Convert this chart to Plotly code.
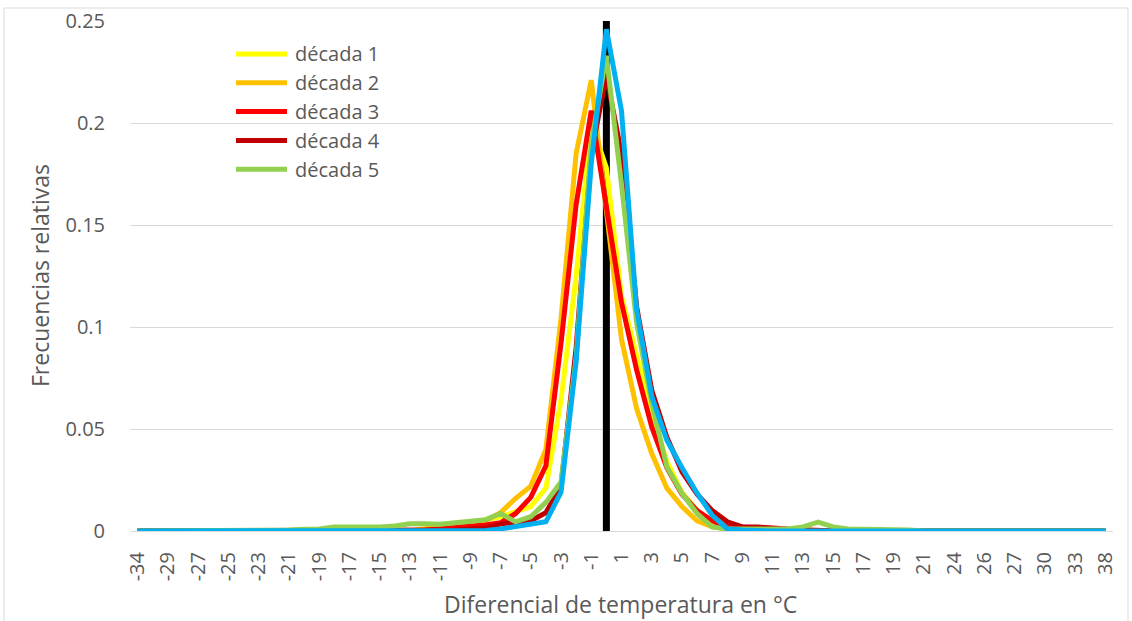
import plotly.graph_objects as go

# Categories (temperature differential, °C); every other one is labelled
categories = ["-34", "-31", "-29", "-28", "-27", "-26", "-25", "-24", "-23", "-22",
              "-21", "-20", "-19", "-18", "-17", "-16", "-15", "-14", "-13", "-12",
              "-11", "-10", "-9", "-8", "-7", "-6", "-5", "-4", "-3", "-2",
              "-1", "0", "1", "2", "3", "4", "5", "6", "7", "8",
              "9", "10", "11", "12", "13", "14", "15", "16", "17", "18",
              "19", "20", "21", "22", "24", "25", "26", "28", "27", "29",
              "30", "31", "33", "35", "38"]
tick_labels = categories[::2]

decada_1 = [0, 0, 0, 0, 0, 0, 0, 0, 0, 0,
            0, 0, 0, 0, 0, 0, 0, 0, 0, 0.001,
            0.0015, 0.002, 0.003, 0.0055, 0.007, 0.0095, 0.012, 0.021, 0.064, 0.125,
            0.2, 0.178, 0.115, 0.086, 0.058, 0.034, 0.019, 0.01, 0.004, 0.002,
            0.001, 0.0008, 0.0005, 0, 0, 0, 0, 0, 0, 0,
            0, 0, 0, 0, 0, 0, 0, 0, 0, 0,
            0, 0, 0, 0, 0]
decada_2 = [0, 0, 0, 0, 0, 0, 0, 0, 0, 0,
            0, 0, 0, 0, 0, 0, 0, 0, 0, 0.001,
            0.0015, 0.002, 0.003, 0.005, 0.009, 0.016, 0.022, 0.04, 0.104, 0.185,
            0.221, 0.157, 0.094, 0.06, 0.038, 0.021, 0.012, 0.005, 0.002, 0.001,
            0.0005, 0, 0, 0, 0, 0, 0, 0, 0, 0,
            0, 0, 0, 0, 0, 0, 0, 0, 0, 0,
            0, 0, 0, 0, 0]
decada_3 = [0, 0, 0, 0, 0, 0, 0, 0, 0, 0,
            0, 0, 0, 0, 0, 0, 0, 0, 0, 0.0005,
            0.001, 0.0015, 0.002, 0.003, 0.004, 0.0086, 0.0165, 0.032, 0.092, 0.16,
            0.206, 0.16, 0.112, 0.079, 0.051, 0.031, 0.018, 0.010, 0.005, 0.002,
            0.002, 0.002, 0.0015, 0.001, 0.0005, 0, 0, 0, 0, 0,
            0, 0, 0, 0, 0, 0, 0, 0, 0, 0,
            0, 0, 0, 0, 0]
decada_4 = [0, 0, 0, 0, 0, 0, 0, 0, 0, 0,
            0, 0, 0, 0, 0, 0, 0, 0, 0, 0,
            0, 0.0005, 0.001, 0.0015, 0.0035, 0.004, 0.005, 0.009, 0.022, 0.09,
            0.185, 0.223, 0.185, 0.11, 0.069, 0.046, 0.029, 0.018, 0.010, 0.0045,
            0.002, 0.002, 0.001, 0.0005, 0, 0, 0, 0, 0, 0,
            0, 0, 0, 0, 0, 0, 0, 0, 0, 0,
            0, 0, 0, 0, 0]
decada_5 = [0, 0, 0, 0, 0, 0, 0, 0, 0, 0,
            0.0005, 0.0008, 0.001, 0.002, 0.002, 0.0018, 0.002, 0.0025, 0.0035, 0.0035,
            0.0033, 0.004, 0.0045, 0.0055, 0.0086, 0.0045, 0.007, 0.014, 0.024, 0.085,
            0.19, 0.233, 0.17, 0.102, 0.0628, 0.0314, 0.0185, 0.0085, 0.002, 0.001,
            0.001, 0.001, 0.0008, 0.001, 0.002, 0.0043, 0.002, 0.001, 0.0008, 0.0008,
            0.001, 0.0005, 0, 0, 0, 0, 0, 0, 0, 0,
            0, 0, 0, 0, 0]
decada_6 = [0, 0, 0, 0, 0, 0, 0, 0, 0, 0,
            0, 0, 0, 0, 0, 0, 0, 0, 0, 0,
            0, 0, 0, 0.0003, 0.001, 0.002, 0.0035, 0.0045, 0.019, 0.083,
            0.18, 0.246, 0.206, 0.1085, 0.066, 0.0445, 0.031, 0.0185, 0.0077, 0.001,
            0.0005, 0, 0, 0, 0, 0, 0, 0, 0, 0,
            0, 0, 0, 0, 0, 0, 0, 0, 0, 0,
            0, 0, 0, 0, 0]

reference_x = ["0", "0"]
reference_y = [0, 0.25]

series_names = ["década 1", "década 2", "década 3", "década 4", "década 5", "década 6"]
series_values = [decada_1, decada_2, decada_3, decada_4, decada_5, decada_6]
series_colors = ["#FFFF00", "#FFC000", "#FF0000", "#C00000", "#92D050", "#00B0F0"]
legend_count = 5  # only the first five series appear in the legend

FONT = "Open Sans"
GREY = "#595959"

# plot-area geometry in pixels (used to place decorations in paper coordinates)
PL, PR, PT, PB = 130, 1113, 21, 531
PW, PH = PR - PL, PB - PT


def px(x):
    return (x - PL) / PW


def py(y):
    return (PB - y) / PH


fig = go.Figure()
fig.add_trace(go.Scatter(x=reference_x, y=reference_y, mode="lines",
                         line=dict(color="#000000", width=7),
                         showlegend=False, hoverinfo="skip"))
for name, vals, col in zip(series_names, series_values, series_colors):
    fig.add_trace(go.Scatter(x=categories, y=vals, mode="lines", name=name,
                             line=dict(color=col, width=5), showlegend=False))

# legend drawn as line samples + text, matching the original layout
shapes = []
annotations = []
for i in range(legend_count):
    yc = 54 + i * 28.8
    shapes.append(dict(type="line", xref="paper", yref="paper",
                       x0=px(236), x1=px(287), y0=py(yc), y1=py(yc),
                       line=dict(color=series_colors[i], width=5)))
    annotations.append(dict(text=series_names[i], xref="paper", yref="paper",
                            x=px(293), y=py(yc), xanchor="left", yanchor="middle",
                            showarrow=False,
                            font=dict(size=20, color=GREY, family=FONT)))

annotations += [
    dict(text="Frecuencias relativas", xref="paper", yref="paper",
         x=px(40), y=0.5, textangle=-90, showarrow=False,
         font=dict(size=23, color=GREY, family=FONT),
         xanchor="center", yanchor="middle"),
    dict(text="Diferencial de temperatura en °C", xref="paper", yref="paper",
         x=px(620), y=py(604), showarrow=False,
         font=dict(size=23, color=GREY, family=FONT),
         xanchor="center", yanchor="middle"),
]
shapes.append(dict(type="rect", xref="paper", yref="paper",
                   x0=px(4), x1=px(1128), y0=py(640), y1=py(8),
                   line=dict(color="#D9D9D9", width=1), fillcolor="rgba(0,0,0,0)",
                   layer="below"))

fig.update_layout(
    width=1132, height=621,
    margin=dict(l=PL, r=1132 - PR, t=PT, b=621 - PB, autoexpand=False),
    paper_bgcolor="white", plot_bgcolor="white",
    font=dict(family=FONT, color=GREY, size=20),
    showlegend=False,
    xaxis=dict(type="category", categoryorder="array", categoryarray=categories,
               range=[-0.5, len(categories) - 0.5], automargin=False,
               tickmode="array", tickvals=tick_labels, ticktext=tick_labels,
               tickangle=-90, showgrid=False, zeroline=False,
               showline=True, linecolor="#D9D9D9", linewidth=1,
               ticks="", ticklabelstandoff=12,
               tickfont=dict(size=20, color=GREY, family=FONT)),
    yaxis=dict(range=[0, 0.25], dtick=0.05, tick0=0, showgrid=True,
               automargin=False,
               gridcolor="#D9D9D9", gridwidth=1, zeroline=False,
               showline=False, ticks="", ticklabelstandoff=24,
               tickfont=dict(size=20, color=GREY, family=FONT)),
    annotations=annotations,
    shapes=shapes,
)

fig.write_html("out.html")
